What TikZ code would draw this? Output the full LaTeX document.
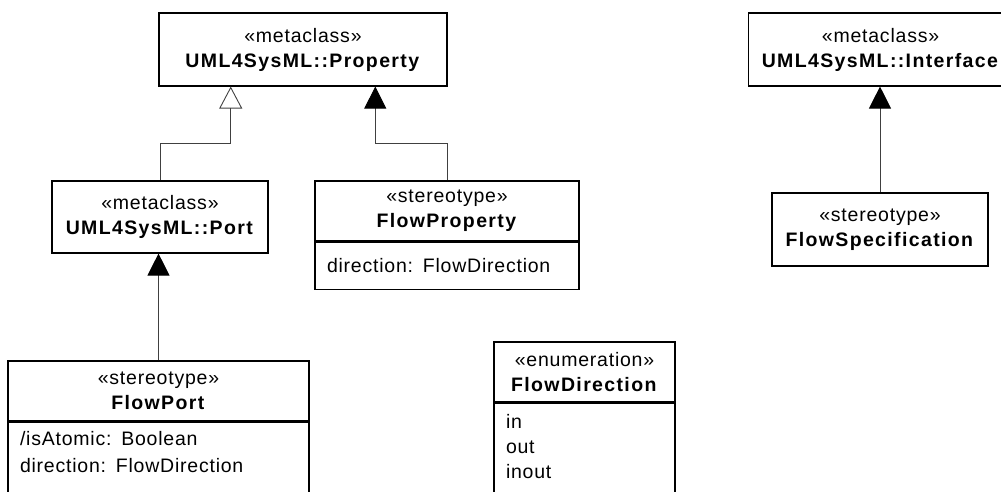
\documentclass[tikz,border=0pt]{standalone}
\usepackage{fontspec}
\setmainfont{Liberation Sans}[LetterSpace=4, BoldFeatures={LetterSpace=7}]
\usetikzlibrary{arrows.meta,calc}

\begin{document}
\begin{tikzpicture}[x=1pt, y=1pt,
        font=\fontsize{19.5}{25}\selectfont,
        cls/.style={rectangle, draw, line width=1.1pt, align=center, inner sep=0pt},
        attr/.style={rectangle, draw, line width=1.1pt, align=left, anchor=north, inner xsep=12pt, inner ysep=9pt},
        gen/.style={draw=black!75, line width=0.9pt, -{Triangle[open, length=22pt, width=23pt]}},
        ext/.style={draw=black!75, line width=0.9pt, -{Triangle[length=22pt, width=22pt, color=black]}}]
        \useasboundingbox (0,0) rectangle (1001,-491);
        \clip (0,0) rectangle (1001,-491);

        % Metaclasses
        \node[cls, minimum width=288pt, minimum height=73pt] (prop) at (303,-49.5) {«metaclass»\\\textbf{UML4SysML::Property}};
        \node[cls, minimum width=280pt, minimum height=73pt, anchor=west] (iface) at (748,-49.5) {\hspace*{-16pt}«metaclass»\\\hspace*{-16pt}\textbf{UML4SysML::Interface}};
        \node[cls, minimum width=216pt, minimum height=72pt] (port) at (160,-217) {«metaclass»\\\textbf{UML4SysML::Port}};

        % Stereotypes
        \node[cls, minimum width=264pt, minimum height=60pt] (flowprop) at (447,-211) {«stereotype»\\\textbf{FlowProperty}};
        \node[attr, text width=240pt, minimum height=47pt] (flowprop-attr) at (flowprop.south) {direction: FlowDirection};
        \node[cls, minimum width=216pt, minimum height=73pt] (flowspec) at (880,-229.5) {«stereotype»\\\textbf{FlowSpecification}};
        \node[cls, minimum width=301pt, minimum height=60pt] (flowport) at (158.5,-391) {«stereotype»\\\textbf{FlowPort}};
        \node[attr, text width=277pt, text depth=90pt, font=\fontsize{19.5}{27.5}\selectfont] (flowport-attr) at (flowport.south) {/isAtomic: Boolean\\direction: FlowDirection};

        % Enumeration
        \node[cls, minimum width=181pt, minimum height=60pt] (flowdir) at (584.5,-372) {«enumeration»\\\textbf{FlowDirection}};
        \node[attr, text width=157pt, text depth=90pt, inner ysep=11pt] (flowdir-attr) at (flowdir.south) {in\\out\\inout};

        % Connections
        \draw[gen] (port.north) -- ++(0,37) -| ($(prop.south west)!0.25!(prop.south east)$);
        \draw[ext] (flowprop.north) -- ++(0,37) -| ($(prop.south west)!0.75!(prop.south east)$);
        \draw[ext] (flowport.north) -- (flowport.north |- port.south);
        \draw[ext] (flowspec.north) -- (flowspec.north |- iface.south);
    \end{tikzpicture}
\end{document}
